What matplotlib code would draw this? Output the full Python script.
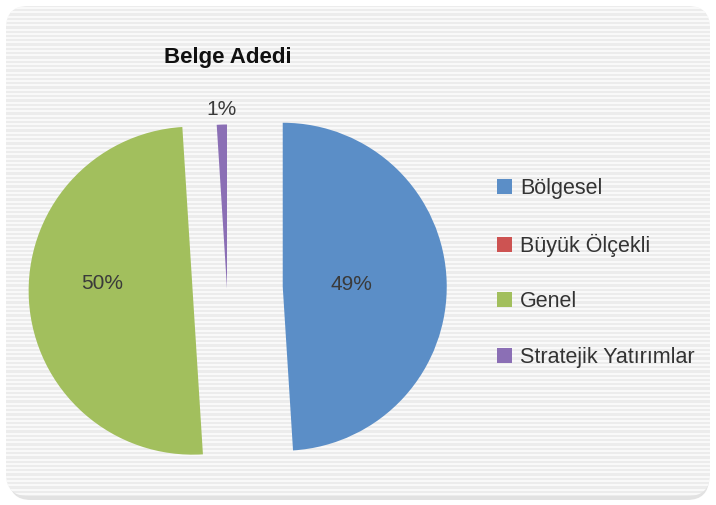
import matplotlib
matplotlib.use('Agg')
import matplotlib.pyplot as plt
import numpy as np
from matplotlib.patches import FancyBboxPatch

categories = ['Bölgesel', 'Büyük Ölçekli', 'Genel', 'Stratejik Yatırımlar']
shares = [49, 0, 50, 1]
colors = ['#5b8ec7', '#cd5352', '#a2bf5d', '#8b6fb5']
explode = [0.34, 0, 0.21, 0]
label_dist = [0.42, 0, 0.55, 1.09]
label_dy = [0, 0, 0.08, 0]

plt.rcParams['font.family'] = ['Liberation Sans', 'DejaVu Sans']

W, H = 716, 505
fig = plt.figure(figsize=(W / 100, H / 100), dpi=100)
fig.patch.set_facecolor('white')

# striped rounded background
bg = fig.add_axes([0, 0, 1, 1])
bg.set_xlim(0, W)
bg.set_ylim(H, 0)
bg.axis('off')
shadow = FancyBboxPatch((9, 12), 700, 488, boxstyle='round,pad=0,rounding_size=22',
                        fc='#e2e2e2', ec='none')
box = FancyBboxPatch((6, 6), 704, 490, boxstyle='round,pad=0,rounding_size=22',
                     fc='#ececec', ec='none')
bg.add_patch(shadow)
bg.add_patch(box)
for y in np.arange(8, 496, 4.3):
    ln = bg.axhline(y, color='white', lw=1.2, alpha=0.85)
    ln.set_clip_path(box)

# pie
ax = fig.add_axes([0, 0, 1, 1])
ax.patch.set_alpha(0)
wedges, texts, autotexts = ax.pie(
    shares, colors=colors, explode=explode, startangle=90, counterclock=False,
    autopct=lambda p: '%d%%' % round(p) if p > 0.5 else '',
    textprops=dict(fontsize=15, color='#3a3a3a'))
r_px = 164
cx, cy = 227, 288.5
ax.set_xlim(-cx / r_px, (W - cx) / r_px)
ax.set_ylim((cy - H) / r_px, cy / r_px)
ax.set_aspect('auto')
for w, t, d, dy in zip(wedges, autotexts, label_dist, label_dy):
    ang = np.deg2rad((w.theta1 + w.theta2) / 2)
    x0, y0 = w.center
    t.set_position((x0 + d * np.cos(ang), y0 + d * np.sin(ang) + dy))

fig.text(228 / W, 1 - 58 / H, 'Belge Adedi', ha='center', va='center',
         fontsize=16, weight='bold', color='#111111')

leg = fig.legend(wedges, categories, loc='center left',
                 bbox_to_anchor=(478 / W, 1 - 273 / H), frameon=False,
                 fontsize=15.5, handlelength=0.7, handleheight=0.7,
                 handletextpad=0.35, labelspacing=1.6)
for t in leg.get_texts():
    t.set_color('#333333')

plt.savefig('out.png', dpi=100)
